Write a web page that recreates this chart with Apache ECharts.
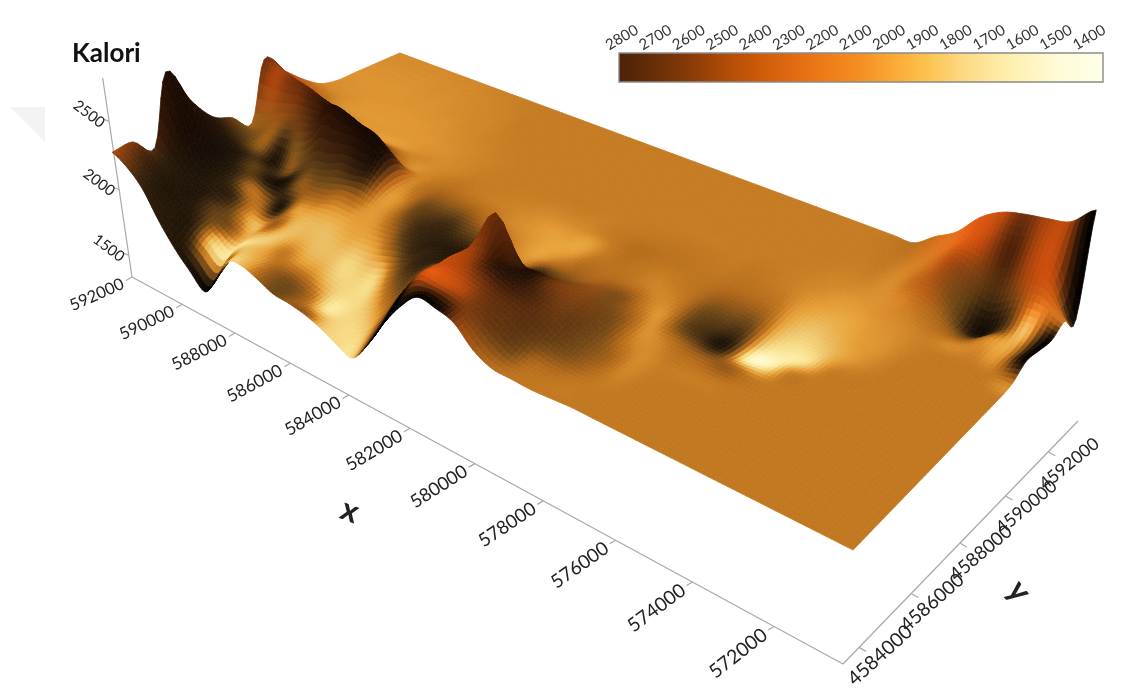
<!DOCTYPE html>
<html><head><meta charset="utf-8">
<style>html,body{margin:0;padding:0;background:#fff}#c{width:1121px;height:697px}</style>
<script src="https://cdn.jsdelivr.net/npm/echarts@6/dist/echarts.min.js"></script>
</head><body><div id="c"></div>
<script>
const xTicks=[592000,590000,588000,586000,584000,582000,580000,578000,576000,574000,572000];
const yTicks=[4584000,4586000,4588000,4590000,4592000];
const zTicks=[1500,2000,2500];
const colorTicks=[2800,2700,2600,2500,2400,2300,2200,2100,2000,1900,1800,1700,1600,1500,1400];
const xNodes=[592000,591460,590920,590380,589840,589300,588760,588220,587680,587140,586600,586060,585520,584980,584440,583900,583360,582820,582280,581740,581200,580660,580120,579580,579040,578500,577960,577420,576880,576340,575800,575260,574720,574180,573640,573100,572560,572020,571480,570940,570400];
const yNodes=[4583400,4584030,4584660,4585290,4585920,4586550,4587180,4587810,4588440,4589070,4589700,4590330,4590960,4591590,4592220,4592850,4593480];
// surface height, one list per x node, running along y
const heightByX=[
[2290,2300,2190,2700,2420,2230,2160,2060,2480,2340,2220,2130,2100,2100,2100,2100,2100],
[2230,2210,2120,2350,2150,2100,2060,2100,2430,2280,2130,2100,2100,2100,2100,2100,2100],
[2120,2080,2020,2060,2050,2040,2020,2150,2410,2230,2100,2100,2100,2100,2100,2100,2100],
[1920,1980,1970,1990,2000,1990,1970,2200,2400,2180,2100,2100,2100,2100,2100,2100,2100],
[1760,1860,1900,1930,1940,1930,1950,2230,2370,2120,2100,2100,2100,2100,2100,2100,2100],
[1640,1780,1830,1860,1880,1950,2020,2280,2340,2110,2100,2100,2100,2100,2100,2100,2100],
[1540,1700,1790,1830,1880,1980,2100,2440,2290,2100,2100,2100,2100,2100,2100,2100,2100],
[1700,1830,1860,1880,1920,1990,2130,2420,2270,2100,2100,2100,2100,2100,2100,2100,2100],
[1880,1900,1880,1900,1950,2010,2180,2400,2200,2100,2100,2100,2100,2100,2100,2100,2100],
[1900,1870,1860,1880,1950,2060,2180,2380,2130,2100,2100,2100,2100,2100,2100,2100,2100],
[1860,1840,1830,1870,1960,2060,2200,2280,2100,2100,2100,2100,2100,2100,2100,2100,2100],
[1810,1800,1810,1850,1950,2050,2120,2130,2100,2100,2100,2100,2100,2100,2100,2100,2100],
[1800,1760,1790,1850,1960,2050,2090,2100,2100,2100,2100,2100,2100,2100,2100,2100,2100],
[1780,1730,1760,1850,1980,2060,2090,2100,2100,2100,2100,2100,2100,2100,2100,2100,2100],
[1740,1720,1750,1880,2020,2070,2090,2100,2100,2100,2100,2100,2100,2100,2100,2100,2100],
[1680,1700,1800,1950,2040,2060,2080,2100,2100,2100,2100,2100,2100,2100,2100,2100,2100],
[1640,1800,1950,2060,2080,2060,2080,2100,2100,2100,2100,2100,2100,2100,2100,2100,2100],
[1800,1950,2080,2120,2080,2060,2090,2100,2100,2100,2100,2100,2100,2100,2100,2100,2100],
[2015,2160,2180,2200,2080,2070,2090,2100,2100,2100,2100,2100,2100,2100,2100,2100,2100],
[2200,2340,2335,2330,2290,2090,2100,2100,2100,2100,2100,2100,2100,2100,2100,2100,2100],
[2335,2340,2360,2370,2590,2150,2100,2100,2100,2100,2100,2100,2100,2100,2100,2100,2100],
[2320,2330,2340,2360,2300,2150,2110,2100,2100,2100,2100,2100,2100,2100,2100,2100,2100],
[2280,2290,2300,2310,2290,2160,2100,2100,2100,2100,2100,2100,2100,2100,2100,2100,2100],
[2155,2210,2260,2270,2270,2180,2110,2100,2100,2100,2100,2100,2100,2100,2100,2100,2100],
[2090,2130,2200,2230,2240,2200,2130,2100,2100,2100,2100,2100,2100,2100,2100,2100,2100],
[2085,2100,2130,2170,2190,2160,2120,2100,2100,2100,2100,2100,2100,2100,2100,2100,2100],
[2080,2090,2100,2120,2130,2120,2100,2100,2100,2100,2100,2100,2100,2100,2100,2100,2100],
[2090,2090,2090,2090,2095,2100,2100,2100,2100,2100,2100,2100,2100,2100,2100,2100,2100],
[2100,2100,2100,2100,2100,2100,2090,2090,2100,2100,2100,2100,2100,2100,2100,2100,2100],
[2100,2100,2100,2100,2100,2100,2080,2070,2085,2100,2100,2100,2100,2100,2100,2100,2100],
[2100,2100,2100,2100,2100,2095,2070,2060,2070,2090,2100,2100,2100,2100,2100,2100,2100],
[2100,2100,2100,2100,2100,2100,2060,2050,2060,2080,2095,2100,2100,2100,2100,2100,2100],
[2100,2100,2100,2100,2100,2100,2080,2050,2050,2070,2090,2100,2100,2100,2100,2100,2100],
[2100,2100,2100,2100,2100,2100,2100,2070,2060,2075,2095,2100,2100,2110,2130,2160,2195],
[2100,2100,2100,2100,2100,2100,2100,2090,2080,2090,2100,2120,2140,2170,2200,2240,2280],
[2100,2100,2100,2100,2100,2100,2100,2100,2090,2095,2100,2110,2130,2200,2280,2350,2430],
[2100,2100,2100,2100,2100,2100,2100,2100,2100,2100,2100,2090,2060,2060,2200,2380,2520],
[2100,2100,2100,2100,2100,2100,2100,2100,2100,2100,2100,2090,2040,2000,2170,2380,2560],
[2100,2100,2100,2100,2100,2100,2100,2100,2100,2100,2110,2120,2110,2100,2250,2450,2585],
[2100,2100,2100,2100,2100,2100,2100,2100,2100,2100,2100,2110,2100,2145,2270,2450,2620],
[2100,2100,2100,2100,2100,2100,2100,2100,2100,2100,2110,2170,2150,2130,2170,2100,2755]
];
const toneByX=[
[2300,2450,2650,2900,2900,2800,2450,2250,2500,2300,2150,2050,2020,2010,2020,2030,2040],
[2500,2700,2800,2950,2950,2850,2500,2300,2300,2350,2200,2050,2020,2010,2020,2030,2040],
[2750,2850,2850,2900,2900,2800,2300,2300,2450,2400,2080,2030,2010,2010,2020,2030,2040],
[2800,2850,2850,2800,2700,2500,2900,2400,2550,2300,2030,2010,2010,2010,2020,2030,2040],
[2850,2750,2500,2700,2150,2900,2350,2500,2700,2200,2010,2000,2010,2010,2020,2030,2040],
[3000,1850,2400,2050,2300,2950,2450,2700,2800,2100,2000,2000,2010,2020,2030,2040,2050],
[3200,1700,1950,1900,2900,2350,2550,2850,2900,2080,2000,2000,2010,2020,2030,2040,2050],
[3200,1800,1850,2300,2050,2300,2600,2900,2950,2050,2000,2000,2020,2030,2040,2050,2060],
[1850,1850,1800,1870,1950,2250,2650,2950,2800,2050,2000,2010,2020,2040,2050,2060,2070],
[1900,2000,2100,1900,1900,2200,2750,2950,2300,2050,2010,2020,2040,2050,2060,2070,2080],
[2250,2300,2000,1850,1900,2150,2750,2850,2080,2050,2020,2040,2050,2060,2070,2080,2090],
[2450,2400,2000,1850,1950,2000,2050,2080,2050,2040,2040,2050,2070,2080,2090,2090,2090],
[2300,2200,1850,1750,1950,2050,2050,2150,2100,2060,2060,2070,2080,2090,2090,2090,2090],
[2350,1700,1750,1800,2050,2350,2450,2300,2150,2090,2080,2080,2090,2090,2090,2090,2090],
[1850,1750,1750,1800,2400,2650,2550,2300,2120,2090,2090,2090,2090,2090,2090,2090,2090],
[1750,1750,1950,2300,2700,2750,2650,2300,2100,2090,2090,2090,2090,2090,2090,2090,2090],
[1800,1900,2250,2650,2750,2800,2500,2200,2080,2080,2090,2090,2090,2090,2090,2090,2090],
[3100,2300,2500,2700,2800,2800,2400,2100,2050,2070,2090,2090,2090,2090,2090,2090,2090],
[3200,3100,2200,2250,2600,2500,2200,2050,2020,2050,2090,2090,2090,2090,2090,2090,2090],
[3200,2200,2200,2250,2400,2200,2050,2000,1980,2050,2090,2090,2090,2090,2090,2090,2090],
[3200,2200,2250,2400,2500,2200,1990,1950,1980,2050,2080,2090,2090,2090,2090,2090,2090],
[3100,2300,2400,2800,2700,2800,2200,2000,1950,2080,2090,2090,2090,2090,2090,2090,2090],
[2400,2450,2550,2800,2900,2550,2300,2150,2080,2120,2100,2090,2090,2090,2090,2090,2090],
[2250,2500,2550,2650,2500,2400,2250,2150,2150,2170,2110,2090,2090,2090,2090,2090,2090],
[2150,2450,2550,2500,2400,2350,2300,2150,2120,2150,2120,2090,2090,2090,2090,2090,2090],
[2120,2200,2450,2500,2450,2400,2350,2100,2080,2130,2120,2090,2090,2090,2090,2090,2090],
[2100,2150,2350,2400,2400,2300,2100,2050,2100,2120,2110,2090,2090,2090,2090,2090,2090],
[2100,2100,2200,2250,2100,2020,2020,2120,2150,2130,2100,2090,2090,2090,2090,2090,2090],
[2100,2100,2080,2050,2040,2100,2450,2450,2300,2170,2130,2100,2090,2090,2090,2090,2090],
[2100,2100,2100,2090,2100,2250,2650,2550,2350,2180,2110,2090,2090,2090,2090,2090,2090],
[2100,2100,2100,2100,2100,2300,2850,2600,2350,2150,2080,2070,2080,2090,2090,2090,2090],
[2100,2100,2100,2100,2100,2300,1650,1800,1900,1950,2000,2040,2060,2080,2090,2100,2100],
[2100,2100,2100,2100,2100,2100,1550,1650,1750,1850,1950,2000,2050,2080,2100,2120,2150],
[2100,2100,2100,2100,2100,2100,2050,1700,1800,1900,1950,2000,2020,2030,2050,2080,2100],
[2100,2100,2100,2100,2100,2100,2100,2050,1950,1980,2000,2030,2050,2150,2100,2050,2050],
[2100,2100,2100,2100,2100,2100,2100,2100,2050,2020,2030,2060,2150,2300,2300,2100,2100],
[2100,2100,2100,2100,2100,2100,2100,2100,2100,2090,2080,2100,2250,2500,2450,2300,2200],
[2100,2100,2100,2100,2100,2100,2100,2100,2100,2100,2100,2050,2400,3000,2600,2650,2500],
[2100,2100,2100,2100,2100,2100,2100,2100,2100,2100,2100,2050,2050,2600,2350,2300,2300],
[2100,2100,2100,2100,2100,2100,2100,2100,2100,2100,2100,2050,2000,1800,2100,2250,2300],
[2100,2100,2100,2100,2100,2100,2100,2100,2100,2100,2070,3100,3200,3100,2050,3100,3200]
];
const toneStops=[[1400,255,252,225],[1500,255,248,205],[1650,252,236,165],[1750,246,216,130],[1850,236,190,100],[1950,232,165,60],[2000,224,150,50],[2100,194,120,32],[2200,176,104,26],[2300,150,90,24],[2400,118,76,24],[2500,96,62,20],[2650,64,42,16],[2800,40,26,10],[2950,22,14,6],[3100,6,4,2],[3200,0,0,0]];
const colorbarStops=[[2820,'#4A2208'],[2700,'#6A3008'],[2600,'#8A3C08'],[2500,'#B04C06'],[2400,'#CC5A08'],[2300,'#E06A12'],[2200,'#EE7C18'],[2100,'#F58E22'],[2000,'#FBA834'],[1900,'#FDC24E'],[1800,'#FDD67E'],[1700,'#FDE9A0'],[1600,'#FEF4BC'],[1500,'#FFFBD8'],[1370,'#FFFFEA']];

const FONT='Lato, "Open Sans", sans-serif';
const X0=592000,XSPAN=21600,Y0=4583400,YSPAN=10080,ZBASE=2100,ZUNIT=770;
const H={a:476,b:354,c:116,d:204.7,e:-114.7,f:177,g:-.306,h:.1757};
const UP={L:[-16,-100],F:[10,-114],R:[10,-114],B:[-5,-105]};
function project(x,y,z){
  const s=(X0-x)/XSPAN,t=(y-Y0)/YSPAN,D=1+H.g*s+H.h*t;
  const px=(H.a*s+H.b*t+H.c)/D,py=(H.d*s+H.e*t+H.f)/D,k=(z-ZBASE)/ZUNIT;
  const ux=(1-s)*(1-t)*UP.L[0]+s*(1-t)*UP.F[0]+s*t*UP.R[0]+(1-s)*t*UP.B[0];
  const uy=(1-s)*(1-t)*UP.L[1]+s*(1-t)*UP.F[1]+s*t*UP.R[1]+(1-s)*t*UP.B[1];
  return [px+ux*k,py+uy*k];
}
function along(a,b,f,w){const d=(1-f)+w*f;return [(a[0]*(1-f)+b[0]*w*f)/d,(a[1]*(1-f)+b[1]*w*f)/d];}
const CORNER=[132,277],XEND=[843,664],YEND=[1078,421],ZEND=[102.7,78];
const xAxisPt=v=>along(CORNER,XEND,(X0-v)/XSPAN,.745);
const yAxisPt=v=>along(XEND,YEND,(v-4583410)/10060,1.18);
const zAxisPt=v=>along(CORNER,ZEND,(v-1329)/1475,.94);

function cr(p0,p1,p2,p3,u){return .5*(2*p1+(p2-p0)*u+(2*p0-5*p1+4*p2-p3)*u*u+(3*p1-p0-3*p2+p3)*u*u*u);}
function bicubic(tb,fi,fj){
  const ni=tb.length,nj=tb[0].length,i=Math.min(Math.floor(fi),ni-2),j=Math.min(Math.floor(fj),nj-2),u=fi-i,v=fj-j,r=[];
  for(let a=-1;a<=2;a++){const c=tb[Math.max(0,Math.min(ni-1,i+a))];
    r.push(cr(c[Math.max(0,j-1)],c[j],c[j+1],c[Math.min(nj-1,j+2)],v));}
  return cr(r[0],r[1],r[2],r[3],u);
}
function toneRGB(tn,z){
  tn=Math.max(1400,Math.min(3200,tn));let k=0;
  while(k<toneStops.length-2&&tn>toneStops[k+1][0])k++;
  const A=toneStops[k],B=toneStops[k+1],m=(tn-A[0])/(B[0]-A[0]);
  let r=A[1]+(B[1]-A[1])*m,g=A[2]+(B[2]-A[2])*m,b=A[3]+(B[3]-A[3])*m;
  const f=Math.max(0,Math.min(1,(z-2100)/250));
  r=Math.min(255,r*(1+.14*f));g*=1-.26*f;b*=1-.5*f;
  return 'rgb('+Math.round(r)+','+Math.round(g)+','+Math.round(b)+')';
}
const SUB=5,NI=(xNodes.length-1)*SUB+1,NJ=(yNodes.length-1)*SUB+1;
const fine=[];
for(let i=0;i<NI;i++){const c=[];const fi=i/SUB,x=X0-XSPAN*i/(NI-1);
  for(let j=0;j<NJ;j++){const fj=j/SUB,y=Y0+YSPAN*j/(NJ-1);
    const z=bicubic(heightByX,fi,fj),tn=bicubic(toneByX,fi,fj);
    c.push({p:project(x,y,z),z,tn});}
  fine.push(c);}
const cells=[];
for(let i=0;i<NI-1;i++)for(let j=NJ-2;j>=0;j--)cells.push([i,j]);

const chart=echarts.init(document.getElementById('c'),null,{renderer:'canvas'});
const axisLine='#a8a8a8';
function renderCell(params,api){
  const i=api.value(0),j=api.value(1),q=[fine[i][j],fine[i+1][j],fine[i+1][j+1],fine[i][j+1]];
  const col=toneRGB((q[0].tn+q[1].tn+q[2].tn+q[3].tn)/4,(q[0].z+q[1].z+q[2].z+q[3].z)/4);
  return {type:'polygon',shape:{points:q.map(n=>api.coord(n.p))},style:{fill:col,stroke:col,lineWidth:.8},silent:true};
}
function lineEl(api,a,b,w,c){const A=api.coord(a),B=api.coord(b);return {type:'line',shape:{x1:A[0],y1:A[1],x2:B[0],y2:B[1]},style:{stroke:c||axisLine,lineWidth:w||1.2,fill:null}};}
function textEl(api,p,str,size,deg,align,weight){const A=api.coord(p);return {type:'text',x:A[0],y:A[1],rotation:deg*Math.PI/180,style:{text:String(str),x:0,y:0,align:align,verticalAlign:'middle',font:(weight||'normal')+' '+size+'px '+FONT,fill:'#222'}};}
function renderAxes(params,api){
  if(params.dataIndex!==0)return;
  const ch=[lineEl(api,CORNER,XEND),lineEl(api,XEND,YEND),lineEl(api,CORNER,ZEND)];
  xTicks.forEach((v,n)=>{const p=xAxisPt(v),f=n/(xTicks.length-1);
    ch.push(lineEl(api,p,[p[0]-6,p[1]+3.5]));
    ch.push(textEl(api,[p[0]-9,p[1]+6],v,16.5+3*f,24+14*f,'right'));});
  yTicks.forEach((v,n)=>{const p=yAxisPt(v),f=n/(yTicks.length-1);
    ch.push(lineEl(api,p,[p[0]+7,p[1]+4]));
    ch.push(textEl(api,[p[0]+21,p[1]+(8+4*f)],v,19.5-2*f,42-3*f,'center'));});
  zTicks.forEach((v)=>{const p=zAxisPt(v);
    ch.push(lineEl(api,p,[p[0]-6,p[1]-2]));
    ch.push(textEl(api,[p[0]-20,p[1]-7],v,15,-37,'center'));});
  ch.push(textEl(api,[350,511],'x',32,-20,'center','bold'));
  ch.push(textEl(api,[1019,591],'y',32,-52,'center','bold'));
  return {type:'group',children:ch};
}
function renderBar(params,api){
  const a=api.coord([colorbarStops[0][0],0]),b=api.coord([colorbarStops[colorbarStops.length-1][0],1]);
  const span=colorbarStops[colorbarStops.length-1][0]-colorbarStops[0][0];
  return {type:'rect',shape:{x:a[0],y:b[1],width:b[0]-a[0],height:a[1]-b[1]},
    style:{stroke:'#8a8a8a',lineWidth:1.4,fill:new echarts.graphic.LinearGradient(0,0,1,0,
      colorbarStops.map(s=>({offset:(s[0]-colorbarStops[0][0])/span,color:s[1]})))}};
}
chart.setOption({
  animation:false,backgroundColor:'#fff',
  title:{text:'Kalori',left:67,top:36,textStyle:{fontFamily:FONT,fontSize:26,fontWeight:'bold',color:'#111'}},
  graphic:[{type:'polygon',silent:true,z:-1,shape:{points:[[10,107],[45,107],[45,142]]},style:{fill:'#f3f3f3'}}],
  grid:[{left:0,top:0,width:1121,height:697},{left:619,top:53,width:484,height:29}],
  xAxis:[{type:'value',min:0,max:1121,show:false,gridIndex:0},
    {type:'value',gridIndex:1,position:'top',inverse:true,min:1370,max:2820,splitLine:{show:false},
     axisLine:{show:false},axisTick:{show:true,length:8,inside:false,customValues:colorTicks,lineStyle:{color:'#666'}},
     axisLabel:{show:true,rotate:30,margin:9,customValues:colorTicks,color:'#333',fontFamily:FONT,fontSize:15,align:'center',verticalAlign:'bottom',formatter:v=>String(v)}}],
  yAxis:[{type:'value',min:0,max:697,inverse:true,show:false,gridIndex:0},
    {type:'value',gridIndex:1,min:0,max:1,show:false}],
  series:[
    {type:'custom',name:'axes',xAxisIndex:0,yAxisIndex:0,coordinateSystem:'cartesian2d',clip:false,silent:true,z:1,renderItem:renderAxes,data:[[0,0]]},
    {type:'custom',name:'surface',xAxisIndex:0,yAxisIndex:0,coordinateSystem:'cartesian2d',clip:false,silent:true,z:2,progressive:0,renderItem:renderCell,data:cells,encode:{x:0,y:1}},
    {type:'custom',name:'colorbar',xAxisIndex:1,yAxisIndex:1,coordinateSystem:'cartesian2d',silent:true,z:3,renderItem:renderBar,data:[[2100,0.5]]}
  ]
});
</script></body></html>
